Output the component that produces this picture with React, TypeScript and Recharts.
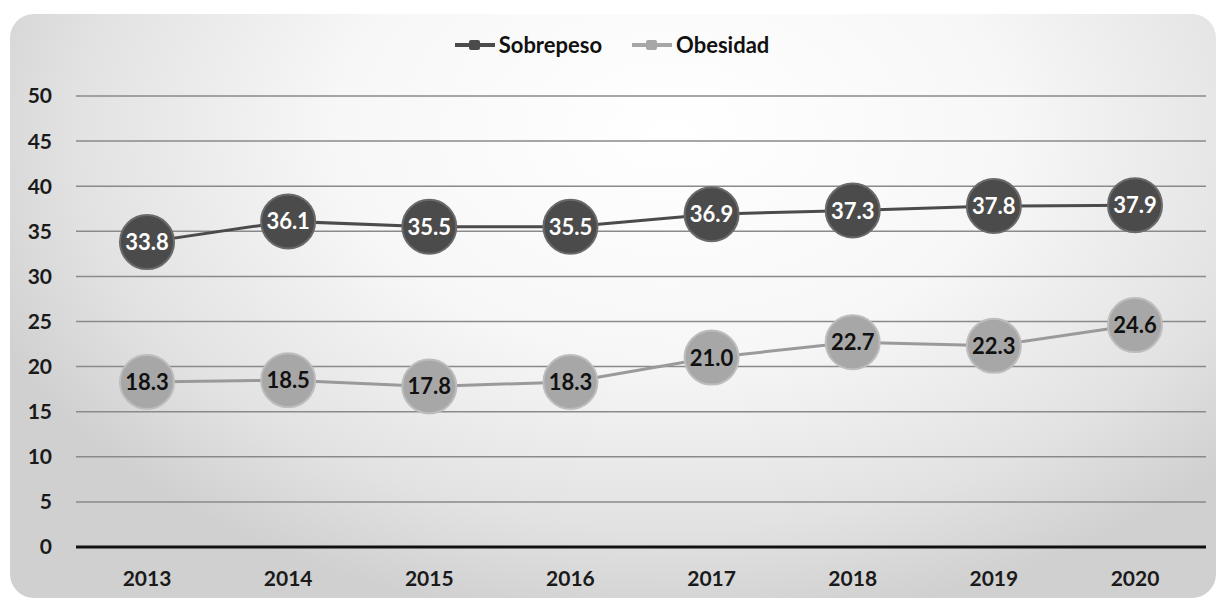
import { LineChart, Line, XAxis, YAxis, CartesianGrid, LabelList } from 'recharts';

const YEARS = ['2013', '2014', '2015', '2016', '2017', '2018', '2019', '2020'];
const SOBREPESO = [33.8, 36.1, 35.5, 35.5, 36.9, 37.3, 37.8, 37.9];
const OBESIDAD = [18.3, 18.5, 17.8, 18.3, 21.0, 22.7, 22.3, 24.6];
const Y_TICKS = [0, 5, 10, 15, 20, 25, 30, 35, 40, 45, 50];

const data = YEARS.map((year, i) => ({ year, sobrepeso: SOBREPESO[i], obesidad: OBESIDAD[i] }));

const FONT = 'Lato, "Open Sans", sans-serif';
const DARK = '#4b4b4b';
const LIGHT = '#a7a7a7';

const makeDot = (fill: string, stroke: string) => (props: any) => {
  const { cx, cy, index } = props;
  if (cx == null || cy == null) return <g key={index} />;
  return <circle key={index} cx={cx} cy={cy} r={27} fill={fill} stroke={stroke} strokeWidth={2} />;
};

const makeLabel = (color: string) => (props: any) => {
  const { x, y, value } = props;
  return (
    <text x={x} y={y} dy={8} textAnchor="middle" fill={color} fontSize={22} fontWeight={700} fontFamily={FONT}>
      {Number(value).toFixed(1)}
    </text>
  );
};

function LegendBox() {
  const items = [
    { name: 'Sobrepeso', color: DARK },
    { name: 'Obesidad', color: LIGHT },
  ];
  return (
    <div style={{ display: 'flex', justifyContent: 'center', gap: 28, fontFamily: FONT, fontWeight: 700, fontSize: 22, color: '#111' }}>
      {items.map((it) => (
        <div key={it.name} style={{ display: 'flex', alignItems: 'center' }}>
          <svg width={44} height={14} style={{ marginRight: 2 }}>
            <line x1={2} y1={7} x2={42} y2={7} stroke={it.color} strokeWidth={4} />
            <rect x={16} y={2} width={11} height={10} rx={2} fill={it.color} />
          </svg>
          <span>{it.name}</span>
        </div>
      ))}
    </div>
  );
}

export default function App() {
  return (
    <div style={{ position: 'absolute', left: 0, top: 0, width: 1222, height: 605, background: '#fff' }}>
      <div
        style={{
          position: 'absolute',
          left: 10,
          top: 14,
          width: 1206,
          height: 584,
          borderRadius: 24,
          background:
            'radial-gradient(ellipse 62% 85% at 55% 20%, #ffffff 0%, #f7f7f7 45%, #e2e2e2 80%, #d0d0d0 100%)',
        }}
      />
      <div style={{ position: 'absolute', left: 0, top: 31, width: 1222 }}>
        <LegendBox />
      </div>
      <div style={{ position: 'absolute', left: 0, top: 0 }}>
        <LineChart width={1222} height={605} data={data} margin={{ top: 96, right: 16, bottom: 28, left: 0 }}>
          <CartesianGrid vertical={false} stroke="#8a8a8a" strokeWidth={1.5} />
          <XAxis
            dataKey="year"
            padding={{ left: 71, right: 71 }}
            axisLine={{ stroke: '#111', strokeWidth: 3 }}
            tickLine={false}
            tick={{ fill: '#1a1a1a', fontSize: 21, fontWeight: 700, fontFamily: FONT }}
            tickMargin={18}
          />
          <YAxis
            width={76}
            domain={[0, 50]}
            ticks={Y_TICKS}
            axisLine={false}
            tickLine={false}
            tickSize={0}
            tickMargin={24}
            tick={{ fill: '#1a1a1a', fontSize: 21, fontWeight: 700, fontFamily: FONT }}
          />
          <Line
            dataKey="sobrepeso"
            name="Sobrepeso"
            stroke={DARK}
            strokeWidth={3}
            dot={makeDot(DARK, '#6a6a6a')}
            activeDot={false}
            isAnimationActive={false}
          >
            <LabelList dataKey="sobrepeso" content={makeLabel('#ffffff')} />
          </Line>
          <Line
            dataKey="obesidad"
            name="Obesidad"
            stroke="#9a9a9a"
            strokeWidth={3}
            dot={makeDot(LIGHT, '#bdbdbd')}
            activeDot={false}
            isAnimationActive={false}
          >
            <LabelList dataKey="obesidad" content={makeLabel('#111111')} />
          </Line>
        </LineChart>
      </div>
    </div>
  );
}
